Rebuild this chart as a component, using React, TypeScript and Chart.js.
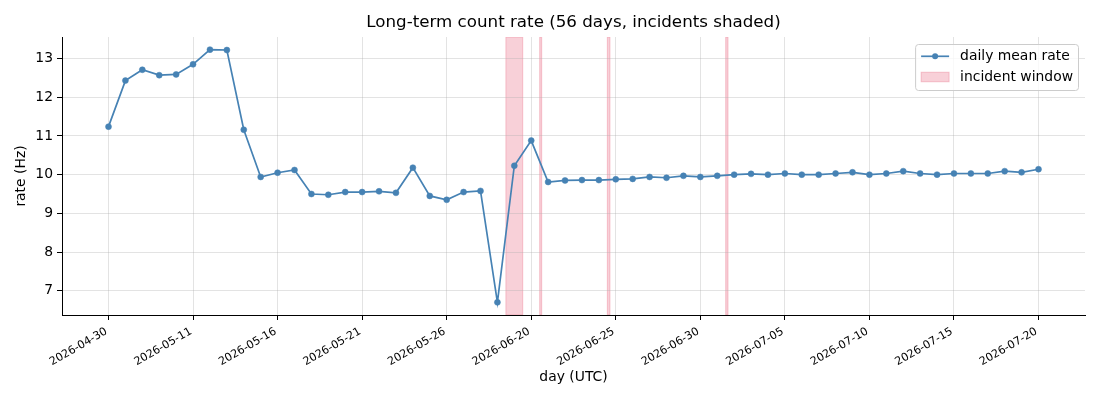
import React, { useEffect, useRef } from 'react';
import { Chart, registerables } from 'chart.js';

Chart.register(...registerables);

// one label per plotted day (index on the x axis)
const DAYS = [
  '2026-04-30', '2026-05-07', '2026-05-08', '2026-05-09', '2026-05-10',
  '2026-05-11', '2026-05-12', '2026-05-13', '2026-05-14', '2026-05-15',
  '2026-05-16', '2026-05-17', '2026-05-18', '2026-05-19', '2026-05-20',
  '2026-05-21', '2026-05-22', '2026-05-23', '2026-05-24', '2026-05-25',
  '2026-05-26', '2026-06-16', '2026-06-17', '2026-06-18', '2026-06-19',
  '2026-06-20', '2026-06-21', '2026-06-22', '2026-06-23', '2026-06-24',
  '2026-06-25', '2026-06-26', '2026-06-27', '2026-06-28', '2026-06-29',
  '2026-06-30', '2026-07-01', '2026-07-02', '2026-07-03', '2026-07-04',
  '2026-07-05', '2026-07-06', '2026-07-07', '2026-07-08', '2026-07-09',
  '2026-07-10', '2026-07-11', '2026-07-12', '2026-07-13', '2026-07-14',
  '2026-07-15', '2026-07-16', '2026-07-17', '2026-07-18', '2026-07-19',
  '2026-07-20',
];

const RATE = [
  11.24, 12.43, 12.71, 12.57, 12.59, 12.85, 13.23, 13.22, 11.16, 9.94,
  10.05, 10.12, 9.50, 9.48, 9.55, 9.55, 9.57, 9.53, 10.18, 9.45,
  9.35, 9.55, 9.58, 6.70, 10.23, 10.88, 9.81, 9.85, 9.86, 9.86,
  9.88, 9.89, 9.94, 9.92, 9.97, 9.94, 9.97, 10.00, 10.02, 10.00,
  10.03, 10.00, 10.00, 10.03, 10.06, 10.00, 10.03, 10.09, 10.03, 10.00,
  10.03, 10.03, 10.03, 10.09, 10.06, 10.14,
];

// incident windows, in day-index units
const INCIDENT_START = [23.5, 25.5, 29.5, 36.5];
const INCIDENT_END = [24.5, 25.62, 29.66, 36.64];

const Y_TICKS = [7, 8, 9, 10, 11, 12, 13];
const TICK_EVERY = 5;

const TITLE = 'Long-term count rate (56 days, incidents shaded)';
const LINE_COLOR = '#4682b4';
const BAND_COLOR = 'rgba(220, 20, 60, 0.2)';
const GRID_COLOR = 'rgba(176, 176, 176, 0.35)';
const FONT = "'DejaVu Sans', sans-serif";

Chart.defaults.font.family = FONT;
Chart.defaults.color = '#000';

const incidentBands = {
  id: 'incidentBands',
  beforeDraw(chart: any) {
    const { ctx, chartArea, scales } = chart;
    ctx.save();
    ctx.beginPath();
    ctx.rect(chartArea.left, chartArea.top, chartArea.width, chartArea.height);
    ctx.clip();
    ctx.fillStyle = BAND_COLOR;
    ctx.strokeStyle = BAND_COLOR;
    ctx.lineWidth = 1;
    INCIDENT_START.forEach((start, i) => {
      const x0 = scales.x.getPixelForValue(start);
      const x1 = scales.x.getPixelForValue(INCIDENT_END[i]);
      ctx.fillRect(x0, chartArea.top, x1 - x0, chartArea.height);
      ctx.strokeRect(x0, chartArea.top, x1 - x0, chartArea.height);
    });
    ctx.restore();
  },
};

// title centred over the plot area, like matplotlib's axes title
const axesTitle = {
  id: 'axesTitle',
  afterDraw(chart: any) {
    const { ctx, chartArea } = chart;
    ctx.save();
    ctx.font = `16.7px ${FONT}`;
    ctx.fillStyle = '#000';
    ctx.textAlign = 'center';
    ctx.textBaseline = 'middle';
    ctx.fillText(TITLE, (chartArea.left + chartArea.right) / 2, chartArea.top - 14);
    ctx.restore();
  },
};

// matplotlib-style legend box in the upper right
const mplLegend = {
  id: 'mplLegend',
  afterDraw(chart: any) {
    const { ctx, chartArea } = chart;
    const labels = [chart.data.datasets[0].label, 'incident window'];
    ctx.save();
    ctx.font = `13.9px ${FONT}`;
    const textW = Math.max(...labels.map((l: string) => ctx.measureText(l).width));
    const pad = 6;
    const handle = 28;
    const gap = 11;
    const w = pad + handle + gap + textW + 5;
    const h = 46;
    const x = chartArea.right - 7 - w;
    const y = chartArea.top + 7;

    ctx.beginPath();
    ctx.roundRect(x + 0.5, y + 0.5, w, h, 3);
    ctx.fillStyle = 'rgba(255,255,255,0.8)';
    ctx.fill();
    ctx.strokeStyle = '#cccccc';
    ctx.lineWidth = 1;
    ctx.stroke();

    const hx = x + pad;
    const row1 = y + 12.3;
    const row2 = y + 33;

    ctx.strokeStyle = LINE_COLOR;
    ctx.lineWidth = 1.7;
    ctx.beginPath();
    ctx.moveTo(hx, row1);
    ctx.lineTo(hx + handle, row1);
    ctx.stroke();
    ctx.fillStyle = LINE_COLOR;
    ctx.beginPath();
    ctx.arc(hx + handle / 2, row1, 3, 0, Math.PI * 2);
    ctx.fill();

    ctx.fillStyle = BAND_COLOR;
    ctx.strokeStyle = BAND_COLOR;
    ctx.lineWidth = 1;
    ctx.fillRect(hx, row2 - 4.8, handle, 9.6);
    ctx.strokeRect(hx, row2 - 4.8, handle, 9.6);

    ctx.fillStyle = '#000';
    ctx.textBaseline = 'middle';
    ctx.textAlign = 'left';
    ctx.fillText(labels[0], hx + handle + gap, row1);
    ctx.fillText(labels[1], hx + handle + gap, row2);
    ctx.restore();
  },
};

export default function App() {
  const canvasRef = useRef<HTMLCanvasElement>(null);

  useEffect(() => {
    document.body.style.margin = '0';
    const canvas = canvasRef.current;
    if (!canvas) return;

    const lo = Math.min(...RATE);
    const hi = Math.max(...RATE);
    const ySpan = hi - lo;
    const xSpan = RATE.length - 1;

    const chart = new Chart(canvas, {
      type: 'line',
      data: {
        datasets: [
          {
            label: 'daily mean rate',
            data: RATE.map((y, i) => ({ x: i, y })),
            borderColor: LINE_COLOR,
            backgroundColor: LINE_COLOR,
            borderWidth: 1.7,
            pointRadius: 3,
            pointBorderWidth: 0.5,
            pointBackgroundColor: LINE_COLOR,
            pointBorderColor: LINE_COLOR,
            tension: 0,
          },
        ],
      },
      options: {
        responsive: false,
        animation: false,
        layout: { padding: { left: 0, right: 15, top: 37, bottom: 0 } },
        plugins: {
          legend: { display: false },
          tooltip: { enabled: false },
          title: { display: false },
        },
        scales: {
          x: {
            type: 'linear',
            min: -0.05 * xSpan,
            max: xSpan * 1.05,
            afterBuildTicks: (s: any) => {
              s.ticks = DAYS.map((_, i) => i)
                .filter((i) => i % TICK_EVERY === 0)
                .map((v) => ({ value: v }));
            },
            afterFit: (s: any) => {
              s.height = 85;
            },
            ticks: {
              autoSkip: false,
              minRotation: 30,
              maxRotation: 30,
              padding: 5,
              labelOffset: -2,
              color: '#000',
              font: { size: 11.1 },
              callback: (v: any) => DAYS[v] ?? '',
            },
            grid: { color: GRID_COLOR, lineWidth: 1, tickColor: '#000', tickLength: 5 },
            border: { display: true, color: '#000', width: 1 },
            title: {
              display: true,
              text: 'day (UTC)',
              color: '#000',
              font: { size: 13.9 },
              padding: { top: 0, bottom: 14.7 },
            },
          },
          y: {
            type: 'linear',
            min: lo - 0.05 * ySpan,
            max: hi + 0.05 * ySpan,
            afterBuildTicks: (s: any) => {
              s.ticks = Y_TICKS.map((v) => ({ value: v }));
            },
            afterFit: (s: any) => {
              s.width = 62;
            },
            ticks: { padding: 4, color: '#000', font: { size: 13.9 } },
            grid: { color: GRID_COLOR, lineWidth: 1, tickColor: '#000', tickLength: 5 },
            border: { display: true, color: '#000', width: 1 },
            title: {
              display: true,
              text: 'rate (Hz)',
              color: '#000',
              font: { size: 13.9 },
              padding: { top: 12.7, bottom: 0 },
            },
          },
        },
      },
      plugins: [incidentBands, axesTitle, mplLegend],
    });

    return () => chart.destroy();
  }, []);

  return (
    <div style={{ width: 1100, height: 400 }}>
      <canvas ref={canvasRef} width={1100} height={400} />
    </div>
  );
}
